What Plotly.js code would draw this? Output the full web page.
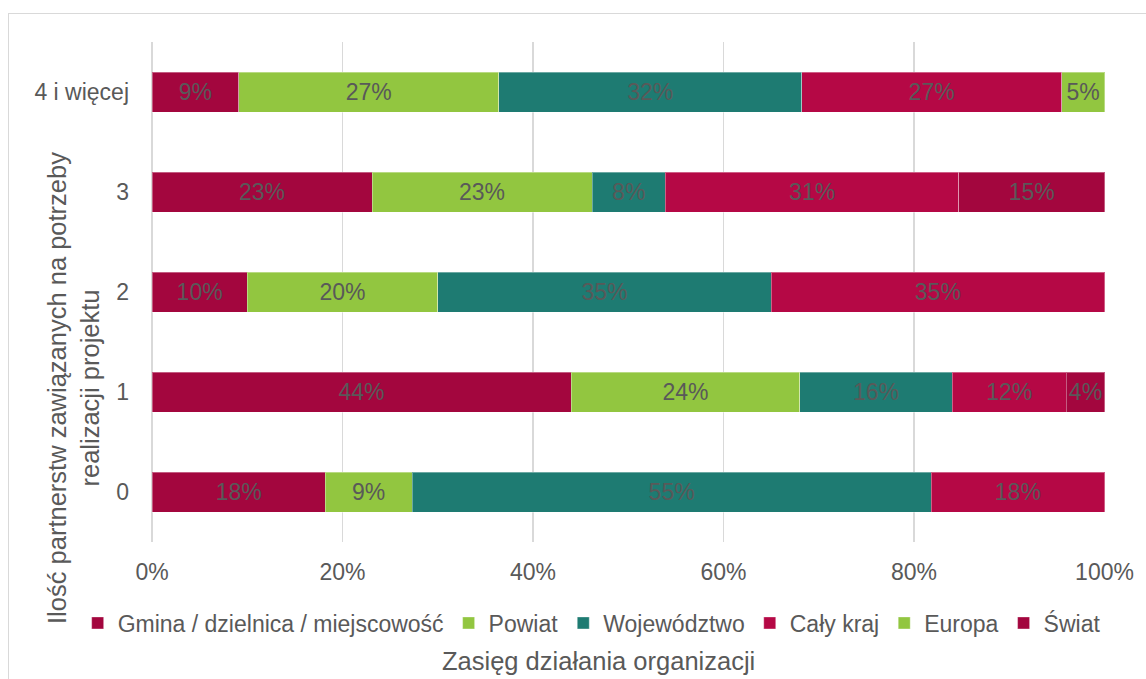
<!DOCTYPE html>
<html>
<head>
<meta charset="utf-8">
<script src="https://cdn.plot.ly/plotly-3.0.1.min.js"></script>
<style>
  html, body { margin: 0; padding: 0; background: #ffffff; overflow: hidden; }
  #frame { position: absolute; left: 8px; top: 13px; width: 1200px; height: 700px; border: 1px solid #d9d9d9; box-sizing: border-box; }
  #chart { position: absolute; left: 0; top: 0; width: 1146px; height: 679px; }
</style>
</head>
<body>
<div id="frame"></div>
<div id="chart"></div>
<script>
// Categories (bottom to top)
const categories = ["0", "1", "2", "3", "4 i więcej"];

// Series values (% of organisations), null = no segment
const gmina      = [18.2, 44, 10, 23.1, 9.1];
const powiat     = [9.1, 24, 20, 23.1, 27.3];
const wojewodztwo= [54.5, 16, 35, 7.7, 31.8];
const calyKraj   = [18.2, 12, 35, 30.8, 27.3];
const europa     = [null, null, null, null, 4.5];
const swiat      = [null, 4, null, 15.3, null];

const seriesNames = ["Gmina / dzielnica / miejscowość", "Powiat", "Województwo", "Cały kraj", "Europa", "Świat"];
const seriesValues = [gmina, powiat, wojewodztwo, calyKraj, europa, swiat];
const seriesColors = ["#A3063E", "#92C640", "#1E7B72", "#B50845", "#92C640", "#A3063E"];

const xTickVals = [0, 20, 40, 60, 80, 100];
const xTickText = ["0%", "20%", "40%", "60%", "80%", "100%"];

const FONT = "Liberation Sans, Arial, Helvetica, sans-serif";
const GRAY = "#595959";

const traces = seriesNames.map((name, i) => ({
  type: "bar",
  orientation: "h",
  name: name,
  y: categories,
  x: seriesValues[i],
  marker: { color: seriesColors[i], line: { color: "rgba(255,255,255,0.35)", width: 1 } },
  texttemplate: "%{x:.0f}%",
  textposition: "inside",
  insidetextanchor: "middle",
  textangle: 0,
  constraintext: "none",
  textfont: { family: FONT, size: 23, color: GRAY },
  hoverinfo: "name+x"
}));

const layout = {
  width: 1146,
  height: 679,
  autosize: false,
  paper_bgcolor: "rgba(0,0,0,0)",
  plot_bgcolor: "rgba(0,0,0,0)",
  margin: { l: 152, r: 41, t: 42, b: 137 },
  barmode: "stack",
  bargap: 0.6,
  font: { family: FONT, color: GRAY, size: 23 },
  xaxis: {
    range: [0, 100.05],
    tickvals: xTickVals,
    ticktext: xTickText,
    showgrid: true,
    gridcolor: "#d9d9d9",
    gridwidth: 1.5,
    zeroline: true,
    zerolinecolor: "#d9d9d9",
    zerolinewidth: 1.5,
    showline: false,
    ticks: "",
    ticklabelstandoff: 14,
    tickfont: { family: FONT, size: 23, color: GRAY },
    fixedrange: true
  },
  yaxis: {
    type: "category",
    categoryorder: "array",
    categoryarray: categories,
    showgrid: false,
    zeroline: false,
    showline: false,
    ticks: "",
    ticklabelstandoff: 22,
    tickfont: { family: FONT, size: 23, color: GRAY },
    fixedrange: true
  },
  showlegend: true,
  legend: {
    orientation: "h",
    traceorder: "normal",
    x: -0.078,
    xanchor: "left",
    y: -0.162,
    yanchor: "middle",
    font: { family: FONT, size: 23, color: GRAY },
    itemwidth: 30,
    bgcolor: "rgba(0,0,0,0)"
  },
  annotations: [
    {
      text: "Ilość partnerstw zawiązanych na potrzeby<br>realizacji projektu",
      xref: "paper", yref: "paper",
      x: -0.0829, y: 0.308,
      xanchor: "center", yanchor: "middle",
      textangle: -90,
      showarrow: false,
      font: { family: FONT, size: 25.5, color: GRAY }
    },
    {
      text: "Zasięg działania organizacji",
      xref: "paper", yref: "paper",
      x: 0.469, y: -0.238,
      xanchor: "center", yanchor: "middle",
      showarrow: false,
      font: { family: FONT, size: 25.5, color: GRAY }
    }
  ]
};

Plotly.newPlot("chart", traces, layout, { displayModeBar: false, staticPlot: true });
</script>
</body>
</html>
